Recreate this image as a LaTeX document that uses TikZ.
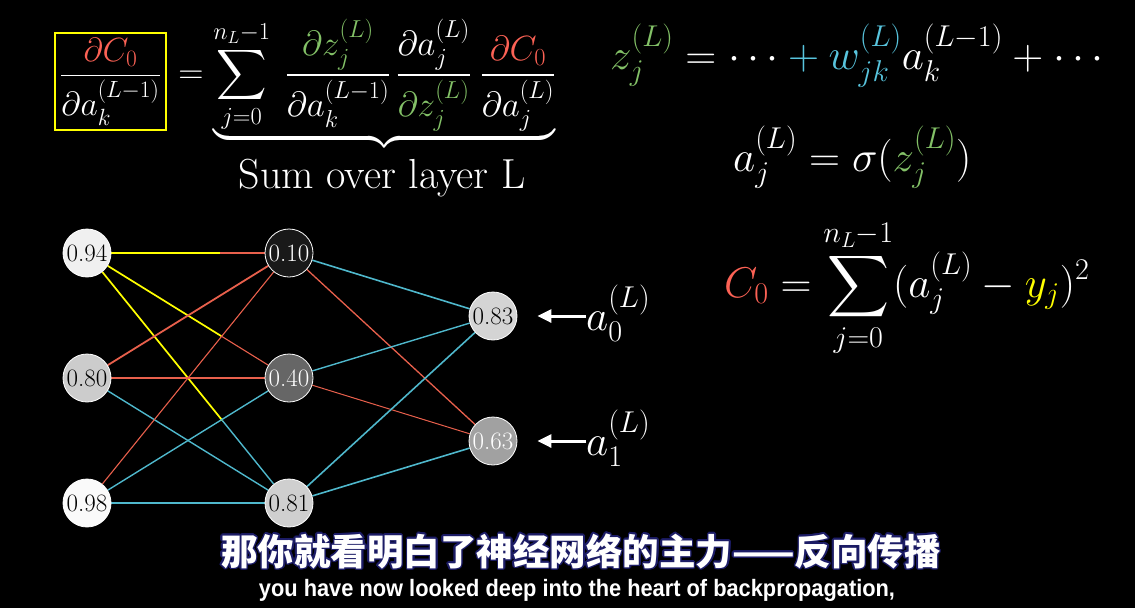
\RequirePackage{fix-cm}
\documentclass[tikz,border=0pt]{standalone}
\usepackage{amsmath}
\DeclareFontFamily{OMX}{cmex}{}
\DeclareFontShape{OMX}{cmex}{m}{n}{<->cmex10}{}
\usepackage{fontspec}
\usepackage[copies]{contour}
\usetikzlibrary{arrows.meta,calc}
\newfontfamily\cjk{Noto Sans CJK SC}
\newfontfamily\subfont[FakeStretch=0.92]{Liberation Sans}
\definecolor{cred}{HTML}{FC6255}
\definecolor{cgreen}{HTML}{83C167}
\definecolor{cblue}{HTML}{58C4DD}
\definecolor{cyel}{HTML}{FFFF00}
\definecolor{ered}{HTML}{E8604C}
\definecolor{eblue}{HTML}{4FB8CC}
\definecolor{navy}{HTML}{1C1C66}
\pgfdeclarelayer{back}
\pgfdeclarelayer{bg}
\pgfsetlayers{back,bg,main}
\tikzset{
  neuron/.style={circle, draw=white, line width=0.8pt, minimum size=48pt, inner sep=0pt,
    font=\fontsize{25}{25}\selectfont},
  ylw/.style={cyel, line width=1.7pt},
  rd/.style={ered, line width=1.4pt},
  bl/.style={eblue, line width=1.4pt},
  outarrow/.style={white, line width=3pt, -{Triangle[length=14pt,width=13pt]}, shorten >=20pt},
  bigmath/.style={text=white, font=\fontsize{43}{50}\selectfont, inner sep=0pt},
  lmath/.style={text=white, font=\fontsize{35}{40}\selectfont, inner sep=0pt}
}
\begin{document}
\begin{tikzpicture}[x=1pt,y=-1pt]
\begin{pgfonlayer}{back}
\fill[black] (0,0) rectangle (1135,608);
\end{pgfonlayer}
\useasboundingbox (0,0) rectangle (1135,608);

% ---- left formula
\node[lmath, font=\fontsize{33.5}{40}\selectfont, draw=cyel, line width=2.4pt,
      minimum width=111pt, minimum height=97pt] (lhs) at (110.5,81.5)
  {$\displaystyle\frac{\color{cred}\partial C_0}{\partial a_k^{(L-1)}}$};
\node[lmath, anchor=base west] (rhs) at ([xshift=11pt]lhs.base east)
  {$\displaystyle = \underbrace{\sum_{j=0}^{n_L-1}\;
   \frac{\color{cgreen}\partial z_j^{(L)}}{\partial a_k^{(L-1)}}\,
   \frac{\partial a_j^{(L)}}{\color{cgreen}\partial z_j^{(L)}}\;
   \frac{\color{cred}\partial C_0}{\partial a_j^{(L)}}\rule[-41pt]{0pt}{1pt}}_{}$};
\node[text=white, font=\fontsize{42}{48}\selectfont, inner sep=0pt] (sumtxt) at (382,178) {Sum over layer L};

% ---- right formulas
\node[bigmath, anchor=base west] (f1) at (610,69)
  {$\color{cgreen}z_j^{(L)}\color{white} = \cdots \color{cblue}+ w_{jk}^{(L)}\color{white} a_k^{(L-1)} + \cdots$};
\node[bigmath, anchor=base west] (f2) at (733,171)
  {$a_j^{(L)} = \sigma(\color{cgreen}z_j^{(L)}\color{white})$};
\node[bigmath, anchor=base west] (f3) at (724,297)
  {$\displaystyle\color{cred}C_0\color{white} = \sum_{j=0}^{n_L-1} (a_j^{(L)} - \color{cyel}y_j\color{white})^2$};

% ---- network nodes
\node[neuron, fill=white!94!black, text=black] (i0) at (87,253) {0.94};
\node[neuron, fill=white!80!black, text=black] (i1) at (87,378) {0.80};
\node[neuron, fill=white!98!black, text=black] (i2) at (87,503) {0.98};
\node[neuron, fill=white!10!black, text=white] (h0) at (289,253) {0.10};
\node[neuron, fill=white!40!black, text=white] (h1) at (289,378) {0.40};
\node[neuron, fill=white!81!black, text=black] (h2) at (289,503) {0.81};
\node[neuron, fill=white!83!black, text=black] (o0) at (493,316) {0.83};
\node[neuron, fill=white!63!black, text=white] (o1) at (493,441) {0.63};

\begin{pgfonlayer}{bg}
  \coordinate (m0) at ($(i0)!0.66!(h0)$);
  \coordinate (m1) at ($(i0)!0.665!(h1)$);
  \coordinate (m2) at ($(i0)!0.67!(h2)$);
  \draw[ylw] (i0) -- (m0); \draw[rd, line width=1.1pt] (m0) -- (h0);
  \draw[ylw] (i0) -- (m1); \draw[rd, line width=1.1pt] (m1) -- (h1);
  \draw[ylw] (i0) -- (m2); \draw[bl] (m2) -- (h2);
  \draw[rd, line width=1.8pt] (i1) -- (h0);
  \draw[rd, line width=1.8pt] (i1) -- (h1);
  \draw[bl] (i1) -- (h2);
  \draw[rd, line width=1.1pt] (i2) -- (h0);
  \draw[bl] (i2) -- (h1);
  \draw[bl] (i2) -- (h2);
  \draw[bl, line width=1.6pt] (h0) -- (o0);
  \draw[rd, line width=1.3pt] (h0) -- (o1);
  \draw[bl] (h1) -- (o0);
  \draw[rd, line width=1.0pt] (h1) -- (o1);
  \draw[bl, line width=1.6pt] (h2) -- (o0);
  \draw[bl, line width=1.6pt] (h2) -- (o1);
\end{pgfonlayer}

% ---- output labels
\node[bigmath, anchor=base west] (l0) at (586,330) {$a_0^{(L)}$};
\node[bigmath, anchor=base west] (l1) at (586,455) {$a_1^{(L)}$};
\draw[outarrow] (l0.west |- o0) -- (o0);
\draw[outarrow] (l1.west |- o1) -- (o1);

% ---- subtitles
\contourlength{1.6pt}
\node[text=white, font=\cjk\bfseries\fontsize{36.5}{40}\selectfont, inner sep=0pt] (cn) at (581,552)
  {\contour{navy}{那你就看明白了神经网络的主力——反向传播}};
\node[text=white, font=\subfont\bfseries\fontsize{23.7}{26}\selectfont, inner sep=0pt] (en) at (577,590)
  {you have now looked deep into the heart of backpropagation,};
\end{tikzpicture}
\end{document}
